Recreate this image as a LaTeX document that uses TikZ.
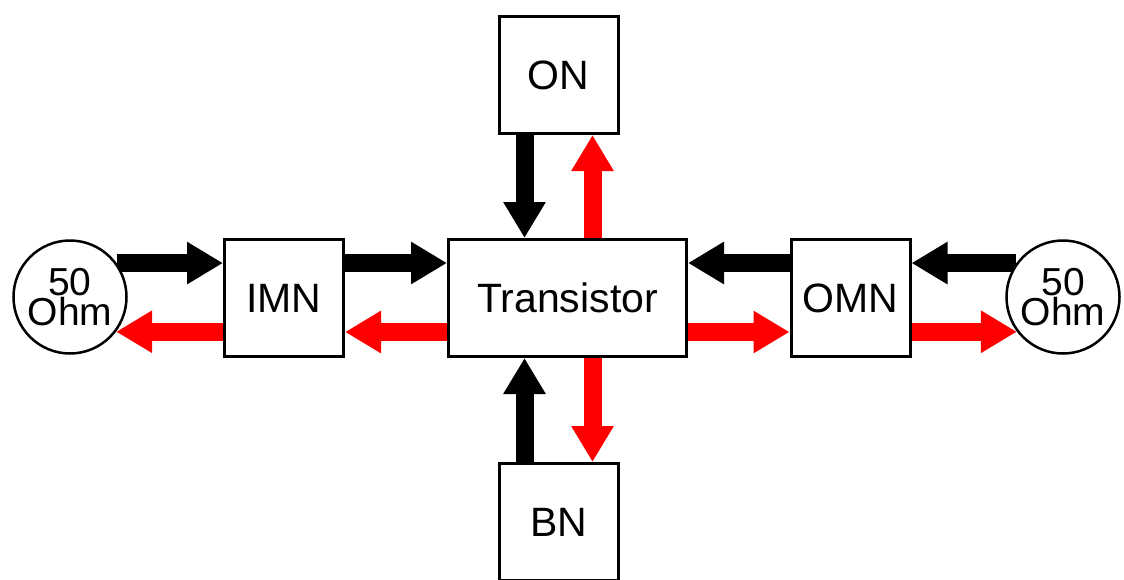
\documentclass[tikz,border=0pt]{standalone}
\usepackage{fontspec}
\setmainfont{Liberation Sans}
\usetikzlibrary{arrows.meta,calc,backgrounds}
\begin{document}
\begin{tikzpicture}[x=1pt,y=-1pt,
  box/.style={draw,line width=3pt,fill=white,minimum width=119pt,minimum height=117pt,inner sep=0pt,font=\fontsize{41}{41}\selectfont},
  load/.style={draw,circle,line width=2.5pt,fill=white,minimum size=113pt,inner sep=0pt,align=center,font=\fontsize{39}{28}\selectfont},
  blkarrow/.style={line width=18pt,-{Triangle[width=40pt,length=36pt]}},
  redarrow/.style={blkarrow,red}]
\useasboundingbox (0,0) rectangle (1124,579);
\node[load] (cl) at (70,297) {50\\Ohm};
\node[load] (cr) at (1063,297) {50\\Ohm};
\node[box] (imn) at (284,298) {IMN};
\node[box,minimum width=238pt] (tr) at (567.5,298) {Transistor};
\node[box] (omn) at (850.5,298) {OMN};
\node[box] (on) at (558.5,75) {ON};
\node[box] (bn) at (558.5,522) {BN};
\begin{scope}[on background layer]
  % left load <-> IMN
  \draw[blkarrow] (cl.36) -- (cl.36 -| imn.west);
  \draw[redarrow] (cl.-37 -| imn.west) -- (cl.-37);
  % IMN <-> transistor
  \draw[blkarrow] ($(imn.east)+(0,-35)$) -- ($(tr.west)+(0,-35)$);
  \draw[redarrow] ($(tr.west)+(0,34)$) -- ($(imn.east)+(0,34)$);
  % transistor <-> OMN
  \draw[blkarrow] ($(omn.west)+(0,-35)$) -- ($(tr.east)+(0,-35)$);
  \draw[redarrow] ($(tr.east)+(0,34)$) -- ($(omn.west)+(0,34)$);
  % OMN <-> right load
  \draw[blkarrow] (cr.144) -- (cr.144 -| omn.east);
  \draw[redarrow] (cr.-143 -| omn.east) -- (cr.-143);
  % ON <-> transistor
  \coordinate (onl) at ($(on.south)+(-34,0)$);
  \coordinate (onr) at ($(on.south)+(34,0)$);
  \draw[blkarrow] (onl) -- (onl |- tr.north);
  \draw[redarrow] (onr |- tr.north) -- (onr);
  % BN <-> transistor
  \coordinate (bnl) at ($(bn.north)+(-34,0)$);
  \coordinate (bnr) at ($(bn.north)+(34,0)$);
  \draw[blkarrow] (bnl) -- (bnl |- tr.south);
  \draw[redarrow] (bnr |- tr.south) -- (bnr);
\end{scope}
\end{tikzpicture}
\end{document}
